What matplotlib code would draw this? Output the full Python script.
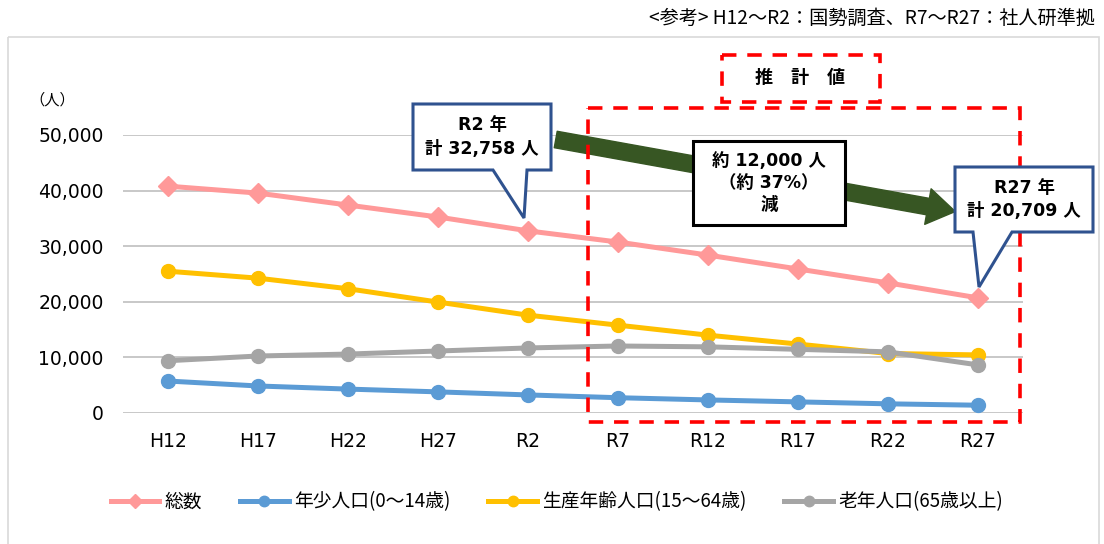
import matplotlib
matplotlib.use("Agg")
import matplotlib.pyplot as plt
import matplotlib.transforms as mtransforms
from matplotlib.patches import Rectangle, Polygon

plt.rcParams['font.family'] = ['DejaVu Sans', 'Noto Sans CJK JP']

# data
years = ["H12", "H17", "H22", "H27", "R2", "R7", "R12", "R17", "R22", "R27"]
total = [40800, 39550, 37400, 35250, 32758, 30750, 28400, 25900, 23400, 20709]
young = [5750, 4860, 4300, 3800, 3250, 2750, 2350, 2000, 1650, 1400]
working = [25500, 24250, 22350, 19950, 17600, 15800, 14000, 12400, 10700, 10450]
elderly = [9400, 10250, 10600, 11150, 11700, 12050, 11900, 11450, 11000, 8650]

series = [
    ("総数", total, "#FF9999", "D", 10),
    ("年少人口(0～14歳)", young, "#5B9BD5", "o", 10),
    ("生産年齢人口(15～64歳)", working, "#FFC000", "o", 10),
    ("老年人口(65歳以上)", elderly, "#A5A5A5", "o", 10),
]

W, H = 1104, 544
fig = plt.figure(figsize=(W / 100, H / 100), dpi=100)
ax = fig.add_axes([123 / W, 1 - 413 / H, 900 / W, 278 / H])

# pixel coordinates (origin top-left) -> figure
pxT = mtransforms.Affine2D().scale(1 / W, -1 / H).translate(0, 1) + fig.transFigure

x = list(range(len(years)))
for name, vals, col, mk, ms in series:
    ax.plot(x, vals, color=col, lw=3.6, marker=mk, markersize=ms,
            label=name, zorder=3)

ax.set_xlim(-0.5, len(years) - 0.5)
ax.set_ylim(0, 50000)
ax.set_yticks(range(0, 50001, 10000))
ax.set_yticklabels([f"{v:,}" for v in range(0, 50001, 10000)], fontsize=13.5)
ax.set_xticks(x)
ax.set_xticklabels(years, fontsize=13.5)
ax.tick_params(length=0, pad=14)
ax.tick_params(axis='y', pad=14)
ax.grid(axis='y', color='#BFBFBF', lw=1.2)
ax.set_axisbelow(True)
for s in ax.spines.values():
    s.set_visible(False)

# outer frame
fig.patches.append(Rectangle((8, 37), 1091, 520, transform=pxT, fill=False,
                             ec='#D9D9D9', lw=1.2))

fig.text(1095 / W, 1 - 18 / H, "<参考> H12～R2：国勢調査、R7～R27：社人研準拠",
         ha='right', va='center', fontsize=13.8,
         family=['Noto Sans CJK JP', 'DejaVu Sans'])
fig.text(52 / W, 1 - 100 / H, "（人）", ha='center', va='center', fontsize=11,
         family=['Noto Sans CJK JP', 'DejaVu Sans'])

# estimated range box
fig.patches.append(Rectangle((588, 108), 432, 314, transform=pxT, fill=False,
                             ec='#FF0000', lw=2.6, ls=(0, (4, 3)), zorder=5))
fig.patches.append(Rectangle((722, 55), 158, 47, transform=pxT, fill=False,
                             ec='#FF0000', lw=2.6, ls=(0, (4, 3)), zorder=5))
fig.text(800 / W, 1 - 78 / H, "推\u3000計\u3000値", ha='center', va='center',
         fontsize=13, fontweight='bold')

# decrease arrow
ax.annotate("", xy=(958, 212), xytext=(553, 139), xycoords=pxT, textcoords=pxT,
            arrowprops=dict(arrowstyle="simple,head_width=1.3,head_length=1.0,tail_width=0.6",
                            mutation_scale=20, fc='#375623', ec='#375623'),
            zorder=4)

fig.patches.append(Rectangle((693, 141), 152, 84, transform=pxT, fc='white',
                             ec='black', lw=2.2, zorder=6))
fig.text(769 / W, 1 - 183 / H, "約 12,000 人\n（約 37%）\n減", ha='center',
         va='center', fontsize=12.5, fontweight='bold', linespacing=1.3, zorder=7)


def callout(x0, y0, x1, y1, b0, b1, tip, text):
    pts = [(x0, y0), (x1, y0), (x1, y1), (b1, y1), tip, (b0, y1), (x0, y1)]
    fig.patches.append(Polygon(pts, closed=True, transform=pxT, fc='white',
                               ec='#2F528F', lw=2.2, zorder=6))
    fig.text((x0 + x1) / 2 / W, 1 - (y0 + y1) / 2 / H, text, ha='center',
             va='center', fontsize=12.5, fontweight='bold', linespacing=1.4,
             zorder=7)


callout(413, 104, 551, 170, 493, 527, (524, 218), "R2 年\n計 32,758 人")
callout(955, 167, 1093, 232, 973, 1012, (979, 287), "R27 年\n計 20,709 人")

fig.legend(loc='center', bbox_to_anchor=(557 / W, 1 - 502 / H), ncol=4,
           frameon=False, handlelength=2.6, columnspacing=2.0,
           handletextpad=0.3, markerscale=0.75,
           prop={'family': ['Noto Sans CJK JP', 'DejaVu Sans'], 'size': 13.5})

fig.savefig("out.png", dpi=100)
